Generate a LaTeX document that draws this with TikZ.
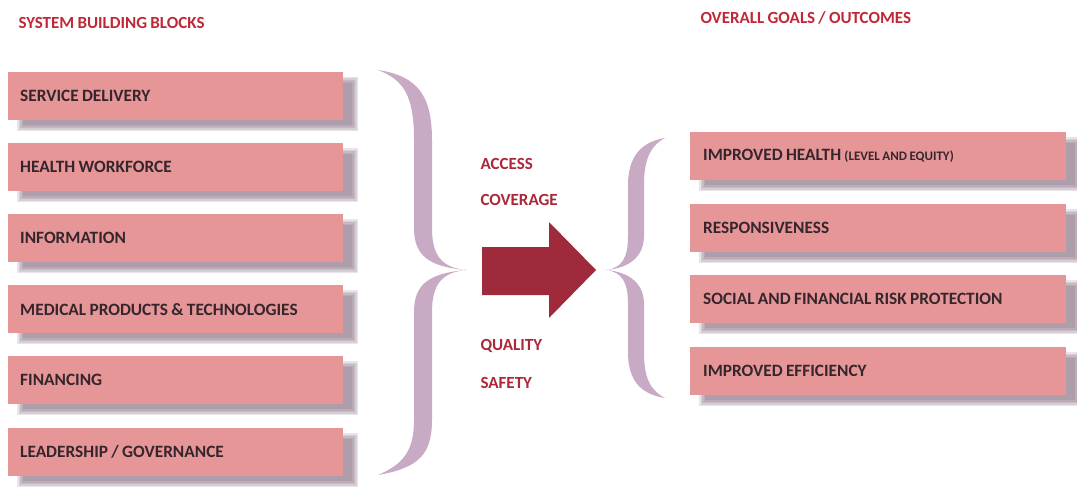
\documentclass[tikz,border=0pt]{standalone}
\usepackage{fontspec}
\setmainfont{Carlito}[WordSpace=0.85]
\usetikzlibrary{calc,backgrounds}
\definecolor{boxfill}{RGB}{231,150,152}
\definecolor{boxtext}{RGB}{52,38,44}
\definecolor{headred}{RGB}{190,40,55}
\definecolor{lblred}{RGB}{170,40,58}
\definecolor{arrowred}{RGB}{158,42,60}
\definecolor{bracecol}{RGB}{200,170,196}
\definecolor{shadowcol}{RGB}{115,88,112}
\tikzset{
  box/.style={fill=boxfill, draw=none, anchor=north west, minimum height=48pt,
    inner xsep=12pt, align=flush left, font=\bfseries\fontsize{17.3}{19}\selectfont, text=boxtext},
  lbox/.style={box, text width=311pt},
  rbox/.style={box, text width=350pt, inner xsep=13pt},
  head/.style={anchor=west, font=\bfseries\fontsize{17}{19}\selectfont, text=headred},
  lbl/.style={anchor=west, font=\bfseries\fontsize{17}{19}\selectfont, text=lblred},
}
\newcommand{\boxshadow}[1]{%
  \foreach \i in {0,1.5,...,6}{%
    \fill[shadowcol, opacity=0.16] ($(#1.north west)+(12-3+\i,8-3+\i)$) rectangle ($(#1.south east)+(12+3-\i,8+3-\i)$);
  }}
\begin{document}
\begin{tikzpicture}[x=1pt,y=-1pt]
\useasboundingbox (0,0) rectangle (1077,487);
% headings
\node[head] (h1) at (15,23) {SYSTEM BUILDING BLOCKS};
\node[head] (h2) at (697,18) {OVERALL GOALS / OUTCOMES};
\node[lbox] (b1) at (8,72) {SERVICE DELIVERY};
\node[lbox] (b2) at (8,143) {HEALTH WORKFORCE};
\node[lbox] (b3) at (8,214) {INFORMATION};
\node[lbox] (b4) at (8,285) {MEDICAL PRODUCTS \& TECHNOLOGIES};
\node[lbox] (b5) at (8,356) {FINANCING};
\node[lbox] (b6) at (8,428) {LEADERSHIP / GOVERNANCE};
\node[rbox] (g1) at (690,132) {IMPROVED HEALTH {\fontsize{13}{14}\selectfont (LEVEL AND EQUITY)}};
\node[rbox] (g2) at (690,204) {RESPONSIVENESS};
\node[rbox] (g3) at (690,275) {SOCIAL AND FINANCIAL RISK PROTECTION};
\node[rbox] (g4) at (690,347) {IMPROVED EFFICIENCY};
\begin{scope}[on background layer]
\foreach \n in {b1,b2,b3,b4,b5,b6,g1,g2,g3,g4}{\boxshadow{\n}}
\end{scope}
% right-facing brace
\fill[bracecol] (378,70) .. controls (418,76) and (432,96) .. (432,140) -- (432,228)
  .. controls (432,256) and (442,268) .. (467,270)
  .. controls (442,272) and (432,284) .. (432,312) -- (432,420)
  .. controls (432,455) and (418,468) .. (378,475)
  .. controls (404,464) and (414,450) .. (414,420) -- (414,312)
  .. controls (414,285) and (428,273) .. (467,270)
  .. controls (428,267) and (414,255) .. (414,228) -- (414,140)
  .. controls (414,96) and (404,80) .. (378,70) -- cycle;
% left-facing brace
\fill[bracecol] (665,138) .. controls (640,142) and (628,158) .. (628,185) -- (628,236)
  .. controls (628,258) and (622,268) .. (606,270)
  .. controls (622,272) and (628,282) .. (628,304) -- (628,352)
  .. controls (628,380) and (640,394) .. (665,398)
  .. controls (650,390) and (644,378) .. (644,352) -- (644,304)
  .. controls (644,284) and (630,272) .. (606,270)
  .. controls (630,268) and (644,256) .. (644,236) -- (644,185)
  .. controls (644,160) and (650,146) .. (665,138) -- cycle;
% arrow
\fill[arrowred] (482,247) -- (549,247) -- (549,222) -- (596,270) -- (549,318) -- (549,295) -- (482,295) -- cycle;
% labels
\node[lbl] (l1) at (477,164) {ACCESS};
\node[lbl] (l2) at (477,200) {COVERAGE};
\node[lbl] (l3) at (477,346) {QUALITY};
\node[lbl] (l4) at (477,383) {SAFETY};
\end{tikzpicture}
\end{document}
